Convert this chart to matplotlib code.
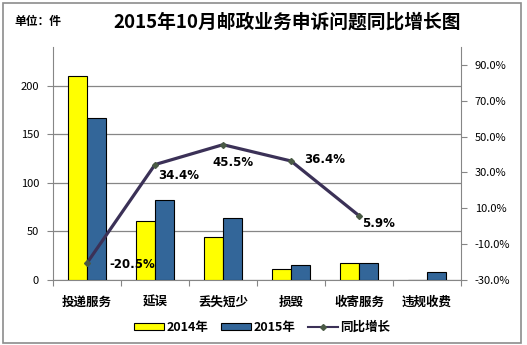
import matplotlib
matplotlib.use("Agg")
import matplotlib.pyplot as plt
import numpy as np
from matplotlib.patches import Rectangle
from matplotlib.lines import Line2D

plt.rcParams['font.family'] = ['Noto Sans CJK SC', 'DejaVu Sans']

# datos
categorias = ["投递服务", "延误", "丢失短少", "损毁", "收寄服务", "违规收费"]
v2014 = [210, 61, 44, 11, 17, 0]
v2015 = [167, 82, 64, 15, 18, 8]
crecimiento = [-20.5, 34.4, 45.5, 36.4, 5.9]
etiquetas = ["-20.5%", "34.4%", "45.5%", "36.4%", "5.9%"]

fig = plt.figure(figsize=(5.27, 3.45), dpi=100)
ax = fig.add_axes([53/527, 65/345, (461-53)/527, (280-47)/345])
ax2 = ax.twinx()

gris = '#868686'
x = np.arange(len(categorias))
w = 0.285
ax.bar(x - w/2, v2014, w, color='#FFFF00', edgecolor='black', linewidth=0.8, zorder=3)
ax.bar(x + w/2, v2015, w, color='#336699', edgecolor='black', linewidth=0.8, zorder=3)

ax.set_xlim(-0.5, 5.5)
ax.set_ylim(0, 240)
ax.set_yticks([0, 50, 100, 150, 200])
ax.yaxis.grid(True, color=gris, linewidth=0.9, zorder=0)
ax.set_axisbelow(True)
ax.tick_params(axis='y', labelsize=8, length=4, color=gris, pad=6)
ax.set_xticks(np.arange(-0.5, 6, 1))
ax.set_xticklabels([])
ax.tick_params(axis='x', length=4, color=gris)
for i, c in enumerate(categorias):
    ax.annotate(c, (i, 0), xycoords=('data', 'axes fraction'), xytext=(0, -22),
                textcoords='offset pixels', ha='center', va='center',
                fontsize=9, fontweight='bold')

for s in ['top', 'right']:
    ax.spines[s].set_visible(False)
for s in ['left', 'bottom']:
    ax.spines[s].set_color(gris)

xl = x[:len(crecimiento)]
ax2.plot(xl, crecimiento, color='#3B3157', linewidth=2.3, marker='D',
         markersize=3, markerfacecolor='#4A5A45', markeredgecolor='#4A5A45', zorder=5)
ax2.set_ylim(-30, 100)
ax2.set_yticks(np.arange(-30, 91, 20))
ax2.set_yticklabels(["%.1f%%" % t for t in np.arange(-30, 91, 20)])
ax2.tick_params(axis='y', labelsize=8, length=4, color=gris, pad=6)
for s in ['top', 'left', 'bottom']:
    ax2.spines[s].set_visible(False)
ax2.spines['right'].set_color(gris)

# posiciones de las etiquetas (desplazamiento en pixeles)
desp = [(22, -2, 'left'), (3, -11, 'left'), (10, -18, 'center'), (13, 1, 'left'), (3, -8, 'left')]
for xi, yi, t, (dx, dy, ha) in zip(xl, crecimiento, etiquetas, desp):
    ax2.annotate(t, (xi, yi), xytext=(dx, dy), textcoords='offset pixels',
                 ha=ha, va='center', fontsize=8.5, fontweight='bold', family='DejaVu Sans')

fig.text(287/527, 1 - 22/345, "2015年10月邮政业务申诉问题同比增长图", ha='center', va='center',
         fontsize=13.5, fontweight='bold')
fig.text(14/527, 1 - 22/345, "单位：件", ha='left', va='center', fontsize=8.5, fontweight='bold')

# leyenda
h1 = Rectangle((0, 0), 1, 1, facecolor='#FFFF00', edgecolor='black', linewidth=0.8)
h2 = Rectangle((0, 0), 1, 1, facecolor='#336699', edgecolor='black', linewidth=0.8)
h3 = Line2D([], [], color='#3B3157', linewidth=1.5, marker='D', markersize=3,
            markerfacecolor='#4A5A45', markeredgecolor='#4A5A45')
leg = fig.legend([h1, h2, h3], ["2014年", "2015年", "同比增长"], loc='center',
                 bbox_to_anchor=(262/527, 1 - 327/345), ncol=3, frameon=False,
                 prop={'size': 9, 'weight': 'bold'}, handlelength=2.4, handleheight=0.5,
                 handletextpad=0.2, columnspacing=1.0, borderaxespad=0)

fig.patches.append(Rectangle((3/527, 2/345), 518/527, 340/345, transform=fig.transFigure,
                             fill=False, edgecolor='#8C8C8C', linewidth=1.2))

fig.savefig("out.png", dpi=100)
